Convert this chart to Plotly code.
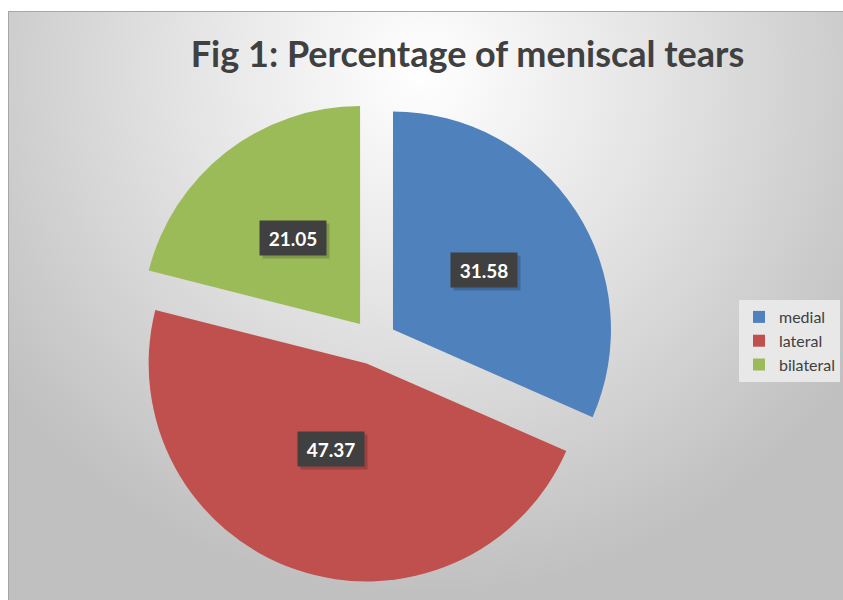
import math
import base64
import plotly.graph_objects as go

# ---- data ----
categories = ["medial", "lateral", "bilateral"]
values = [31.58, 47.37, 21.05]
slice_colors = ["#4F81BD", "#C0504D", "#9BBB59"]
title_text = "Fig 1: Percentage of meniscal tears"

W, H = 843, 600
PULL = 0.104

# pie domain in pixels (centre and radius of the un-pulled pie)
CX, CY, R = 374.0, 342.0, 218.0
half = R * (1 + PULL)
dom_x = [(CX - half) / W, (CX + half) / W]
dom_y = [1 - (CY + half) / H, 1 - (CY - half) / H]

# background: white page strip on top/left, gradient chart area
left, top = 8, 11
svg = (
    f'<svg xmlns="http://www.w3.org/2000/svg" width="{W}" height="{H}" preserveAspectRatio="none">'
    '<defs><radialGradient id="g" gradientUnits="userSpaceOnUse" '
    f'cx="{W*0.5}" cy="{H*0.12}" r="{W*0.62}">'
    '<stop offset="0" stop-color="#ffffff"/>'
    '<stop offset="0.45" stop-color="#e4e4e4"/>'
    '<stop offset="1" stop-color="#c0c0c0"/>'
    '</radialGradient></defs>'
    f'<rect x="0" y="0" width="{W}" height="{H}" fill="#ffffff"/>'
    f'<rect x="{left+0.5}" y="{top+0.5}" width="{W+5}" height="{H}" fill="url(#g)" stroke="#a6a6a6" stroke-width="1"/>'
    '</svg>'
)
src = "data:image/svg+xml;base64," + base64.b64encode(svg.encode()).decode()

fig = go.Figure(
    go.Pie(
        labels=categories,
        values=values,
        sort=False,
        direction="clockwise",
        rotation=0,
        pull=[PULL] * len(values),
        marker=dict(colors=slice_colors, line=dict(width=0)),
        textinfo="none",
        hoverinfo="label+value",
        domain=dict(x=dom_x, y=dom_y),
    )
)

# data labels positioned from the slice angles
annotations = []
total = sum(values)
cum = 0.0
for v in values:
    mid = (cum + v / 2) / total * 2 * math.pi
    cum += v
    d = (PULL + 0.5) * R
    px = CX + d * math.sin(mid)
    py = CY - d * math.cos(mid)
    common = dict(x=px / W, y=1 - py / H, xref="paper", yref="paper",
                  showarrow=False, width=54, height=22, borderpad=6,
                  text=f"<b>{v:.2f}</b>")
    annotations.append(dict(common, xshift=3, yshift=-3,
                            bgcolor="rgba(0,0,0,0.18)",
                            font=dict(family="Lato", size=19, color="rgba(0,0,0,0)")))
    annotations.append(dict(common, bgcolor="#404040",
                            font=dict(family="Lato", size=19, color="#ffffff")))

fig.update_layout(
    width=W,
    height=H,
    margin=dict(l=0, r=0, t=0, b=0),
    paper_bgcolor="#ffffff",
    plot_bgcolor="rgba(0,0,0,0)",
    title=dict(
        text=f"<b>{title_text}</b>",
        x=467.5 / W, xanchor="center",
        y=1 - 54 / H, yanchor="middle",
        font=dict(family="Lato", size=36, color="#404040"),
    ),
    legend=dict(
        x=739 / W, xanchor="left",
        y=1 - 341 / H, yanchor="middle",
        bgcolor="#e8e8e8",
        font=dict(family="Lato", size=16, color="#404040"),
        itemwidth=30,
    ),
    images=[dict(source=src, xref="paper", yref="paper",
                 x=0, y=1, sizex=1, sizey=1,
                 xanchor="left", yanchor="top", sizing="stretch", layer="below")],
    annotations=annotations,
)

fig.write_html(
    "out.html",
    config={"displayModeBar": False},
    post_script="document.body.style.margin='0';document.body.style.overflow='hidden';",
)
